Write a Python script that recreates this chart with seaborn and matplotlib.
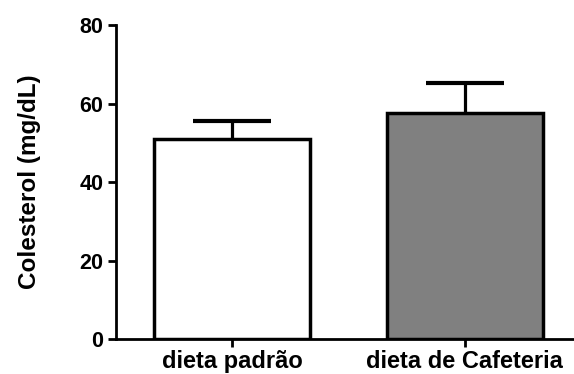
import matplotlib
matplotlib.use("Agg")
import matplotlib.pyplot as plt
import seaborn as sns
import pandas as pd

categories = ["dieta padrão", "dieta de Cafeteria"]
means = [51.0, 57.7]
sem = [4.6, 7.5]
colors = ["#ffffff", "#808080"]
yticks = [0, 20, 40, 60, 80]

sns.set_style("ticks")
plt.rcParams['font.family'] = ['Liberation Sans', 'DejaVu Sans']
plt.rcParams['font.weight'] = 'bold'
plt.rcParams['text.color'] = 'black'
plt.rcParams['axes.labelcolor'] = 'black'
plt.rcParams['xtick.color'] = 'black'
plt.rcParams['ytick.color'] = 'black'
plt.rcParams['axes.edgecolor'] = 'black'

df = pd.DataFrame({"grupo": categories, "colesterol": means})

fig = plt.figure(figsize=(5.74, 3.74), dpi=100)
ax = fig.add_axes([0.202, 0.0936, 0.796, 0.8394])

sns.barplot(data=df, x="grupo", y="colesterol", hue="grupo", palette=colors,
            width=0.67, edgecolor="black", linewidth=2.5, errorbar=None,
            legend=False, ax=ax, saturation=1)
for p in ax.patches:
    p.set_zorder(3)

ax.errorbar(range(len(categories)), means, yerr=sem,
            fmt="none", ecolor="black", elinewidth=2.3, capsize=28.4,
            capthick=3.0, zorder=2)

ax.set_xlim(-0.5, 1.465)
ax.set_ylim(0, 80)
ax.set_yticks(yticks)
ax.set_xlabel("")
ax.set_ylabel("Colesterol (mg/dL)", fontsize=17.5, fontweight="bold", labelpad=28)
for s in ["top", "right"]:
    ax.spines[s].set_visible(False)
for s in ["left", "bottom"]:
    ax.spines[s].set_linewidth(2)
ax.tick_params(axis="both", width=2, length=6)
ax.tick_params(axis="y", pad=3, labelsize=15.5)
ax.tick_params(axis="x", pad=2, labelsize=17)
for lbl in ax.get_xticklabels() + ax.get_yticklabels():
    lbl.set_fontweight("bold")

fig.savefig("out.png", dpi=100)
